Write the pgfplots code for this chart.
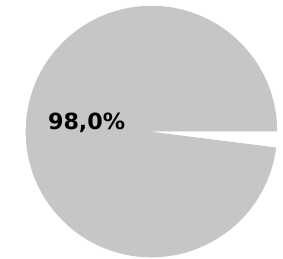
\documentclass[border=0pt]{standalone}
\usepackage{pgfplots}
\pgfplotsset{compat=1.18}
\usepackage{pgfplotstable}
\usepackage{fontspec}
\setmainfont{DejaVu Sans}
\pgfplotstableread{
label share
A 98.0
B 2.0
}\piedata
\begin{document}
\pgfplotstablegetelem{0}{share}\of\piedata \let\va\pgfplotsretval
\pgfplotstablegetelem{1}{share}\of\piedata \let\vb\pgfplotsretval
\pgfmathsetmacro\aA{3.6*\va}
\pgfmathsetmacro\cA{130*cos(\aA)}
\pgfmathsetmacro\sA{130*sin(\aA)}
\begin{tikzpicture}
\begin{axis}[x=1pt,y=1pt,xmin=-147,xmax=136,ymin=-131,ymax=136,hide axis,clip=false]
\coordinate (bl) at (axis cs:-147,-131);
\coordinate (tr) at (axis cs:136,136);
\fill[gray!45] (axis cs:0,0) -- (axis cs:130,0) arc[start angle=0,end angle=\aA,radius=130pt] -- cycle;
\fill[white] (axis cs:0,0) -- (axis cs:\cA,\sA) arc[start angle=\aA,end angle=360,radius=130pt] -- cycle;
\node[font=\bfseries\fontsize{23}{23}\selectfont] at (axis cs:-67,9) {98,0\%};
\end{axis}
\pgfresetboundingbox
\path (bl) rectangle (tr);
\end{tikzpicture}
\end{document}
